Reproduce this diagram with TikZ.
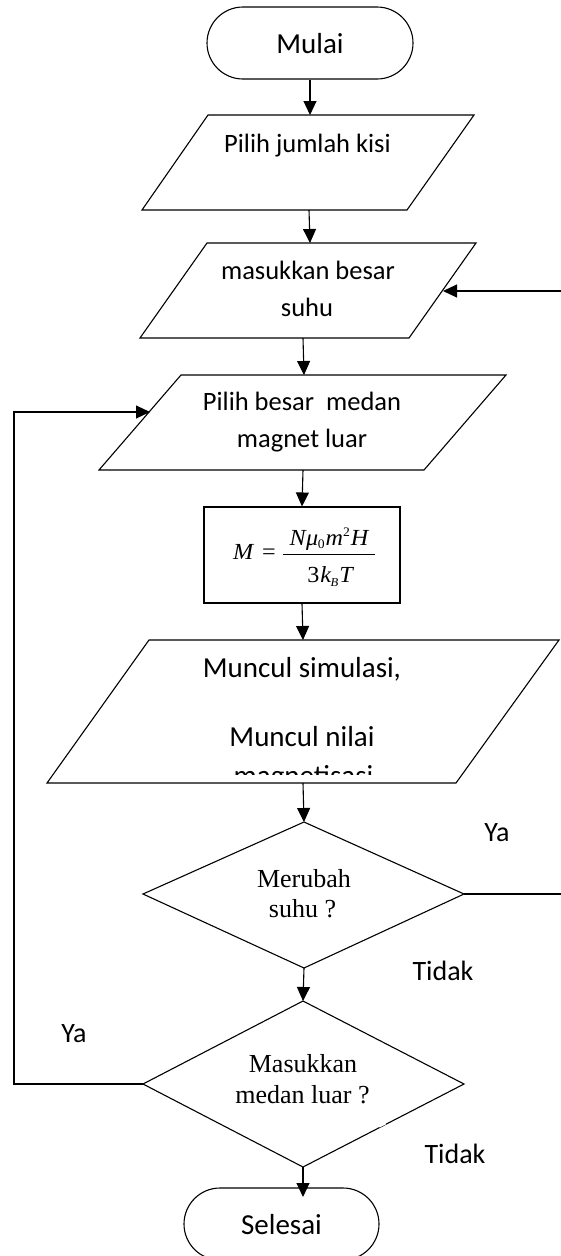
\documentclass[tikz,border=0pt]{standalone}
\usepackage{fontspec}
\usepackage{graphicx}
\setmainfont{Carlito}
\newfontfamily\tms{Liberation Serif}
\usetikzlibrary{arrows.meta}
\tikzset{
  ln/.style={line width=1.1pt, line join=miter},
  arr/.style={ln, -{Triangle[length=14pt,width=13pt]}},
  txt/.style={anchor=base, inner sep=0pt, font=\fontsize{26.5}{32}\selectfont},
  bigtxt/.style={anchor=base, inner sep=0pt, font=\fontsize{29}{35}\selectfont},
  lbl/.style={anchor=base, inner sep=0pt, font=\fontsize{28}{34}\selectfont},
  ttxt/.style={anchor=base, inner sep=0pt, font=\tms\fontsize{26}{31}\selectfont},
  ftxt/.style={anchor=base, inner sep=0pt, font=\tms\fontsize{23}{27}\selectfont},
  term/.style={draw, ln, rounded corners=36pt, inner sep=0pt, minimum height=72pt},
}
\begin{document}
\begin{tikzpicture}[x=1pt,y=-1pt]
\useasboundingbox (0,0) rectangle (560,1256);

% Start terminal
\node[term, minimum width=206pt] (mulai) at (310,43) {};
\node[bigtxt] (mulaiT) at (310,53) {Mulai};

% Parallelogram 1
\draw[ln] (208,115) -- (474,115) -- (407,210) -- (142,210) -- cycle;
\coordinate (p1in) at (310,115);
\coordinate (p1out) at (309,210);
\node[txt] (p1T) at (307.5,152) {Pilih jumlah kisi};

% Parallelogram 2
\draw[ln] (207,243) -- (476,243) -- (409,338) -- (140,338) -- cycle;
\coordinate (p2in) at (310,243);
\coordinate (p2out) at (303,338);
\coordinate (p2r) at (443,291);
\node[txt] (p2a) at (308,279) {masukkan besar};
\node[txt] (p2b) at (307,316) {suhu};

% Parallelogram 3
\draw[ln] (181,375) -- (506,375) -- (424,470) -- (99,470) -- cycle;
\coordinate (p3in) at (304,375);
\coordinate (p3out) at (303,470);
\coordinate (p3l) at (150,412);
\node[txt] (p3a) at (302,410) {Pilih besar\ \ medan};
\node[txt] (p3b) at (302,447) {magnet luar};

% Formula box
\node[draw, ln, minimum width=196pt, minimum height=96pt, inner sep=0pt] (form) at (302,555) {};
\node[ftxt, anchor=base west] (fM) at (233,559) {\scalebox{1.05}[1]{\itshape M}};
\node[ftxt, anchor=base west] (fEq) at (262,559) {\scalebox{1.05}[1]{=}};
\coordinate (fbl) at (283,554);
\coordinate (fbr) at (375,554);
\draw[line width=0.7pt] (fbl) -- (fbr);
\node[ftxt] (fNum) at (329,545) {\scalebox{1.05}[1]{\itshape N\kern0.5pt μ\kern-0.5pt\raisebox{-3pt}{\upshape\fontsize{13}{13}\selectfont 0}\kern1pt m\raisebox{8.5pt}{\upshape\fontsize{13}{13}\selectfont 2}\kern1pt H}};
\node[ftxt] (fDen) at (330,582) {\scalebox{1.05}[1]{\upshape 3\kern1pt\itshape k\kern-0.5pt\raisebox{-4pt}{\fontsize{12}{12}\selectfont B}\kern1pt T}};

% Parallelogram 4
\draw[ln] (149,640) -- (559,640) -- (456,783) -- (47,783) -- cycle;
\coordinate (p4in) at (303,640);
\coordinate (p4out) at (303,783);
\node[bigtxt] (p4a) at (302,677) {Muncul simulasi,};
\node[bigtxt] (p4b) at (302,746) {Muncul nilai};
\begin{scope}
  \clip (200,760) rectangle (410,774.5);
  \node[bigtxt] (p4c) at (303.5,785) {magnetisasi};
\end{scope}

% Decision 1
\draw[ln] (304,822) coordinate (d1t) -- (464,894) coordinate (d1r)
  -- (304,968) coordinate (d1b) -- (143,894) coordinate (d1l) -- cycle;
\node[ttxt] (d1a) at (304,887) {Merubah};
\node[ttxt] (d1c) at (302.5,917) {suhu ?};

% Decision 2
\draw[ln] (303,1001) coordinate (d2t) -- (464,1084) coordinate (d2r)
  -- (303,1167) coordinate (d2b) -- (143,1084) coordinate (d2l) -- cycle;
\draw[white, line width=3pt] (379,1126.2) -- (385.5,1122.8);
\node[ttxt] (d2a) at (303,1072) {Masukkan};
\node[ttxt] (d2c) at (302.5,1103) {medan luar ?};

% End terminal
\node[term, minimum width=195pt] (selesai) at (281.5,1224) {};
\node[bigtxt] (selesaiT) at (281.5,1234) {Selesai};
\coordinate (sEnd) at (303,1197);

% Labels
\node[lbl] (ya1) at (497,841) {Ya};
\node[lbl] (tidak1) at (443,980) {Tidak};
\node[lbl] (ya2) at (74,1042) {Ya};
\node[lbl] (tidak2) at (455,1163) {Tidak};

% Connectors
\draw[arr] (mulai.south) -- (p1in);
\draw[arr] (p1out) -- (p2in);
\draw[arr] (p2out) -- (p3in);
\draw[arr] (p3out) -- (form.north);
\draw[arr] (form.south) -- (p4in);
\draw[arr] (p4out) -- (d1t);
\draw[arr] (d1b) -- (d2t);
\draw[arr] (d2b) -- (sEnd);
\coordinate (rc1) at (568,894);
\coordinate (rc2) at (568,291);
\draw[arr] (d1r) -- (rc1) -- (rc2) -- (p2r);
\coordinate (lc1) at (14,1084);
\coordinate (lc2) at (14,412);
\draw[arr] (d2l) -- (lc1) -- (lc2) -- (p3l);
\end{tikzpicture}
\end{document}
